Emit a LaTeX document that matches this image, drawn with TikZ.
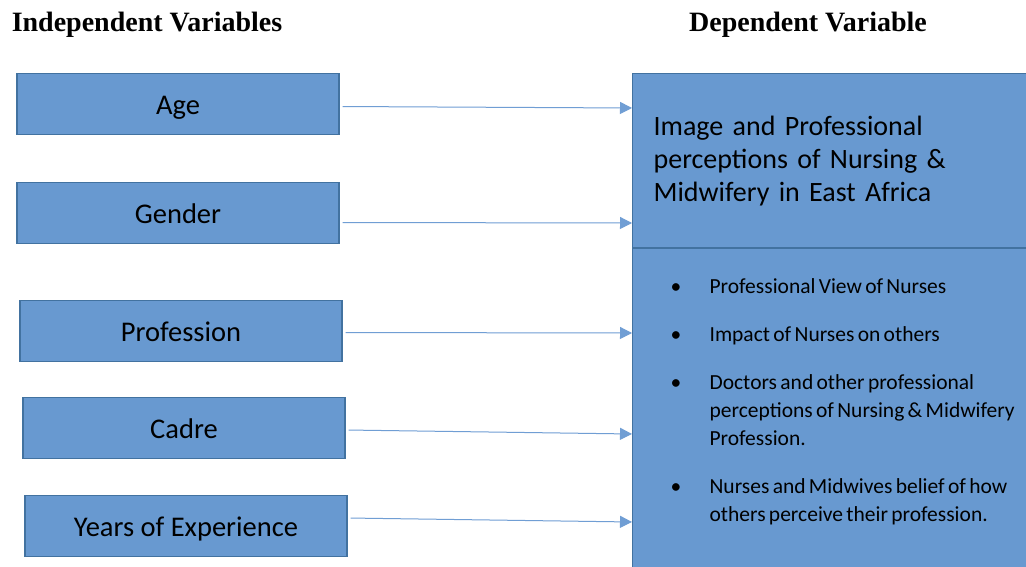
\documentclass[tikz,border=0pt]{standalone}
\usepackage{fontspec}
\setmainfont{Liberation Serif}
\newfontfamily\boxfont{Carlito}
\usetikzlibrary{arrows.meta}
\definecolor{boxblue}{RGB}{104,153,208}
\definecolor{edgeblue}{RGB}{66,114,160}
\definecolor{linkblue}{RGB}{112,158,212}
\tikzset{
  >={Triangle[length=12pt,width=12pt]},
}
\tikzstyle{varbox}=[draw=edgeblue,line width=1.2pt,fill=boxblue,minimum width=322pt,minimum height=61pt,text height=25pt,text depth=4pt,font=\boxfont\fontsize{28.5}{33}\selectfont]
\tikzstyle{depbox}=[draw=edgeblue,line width=1.2pt,fill=boxblue,anchor=north west,inner xsep=0pt,inner ysep=0pt]
\tikzstyle{link}=[linkblue,line width=1pt,->,shorten <=3pt]
\tikzstyle{heading}=[font=\bfseries\fontsize{28}{33}\selectfont,anchor=base]
\newcommand{\bulitem}[1]{\par\noindent\hangindent=77pt\hangafter=1\hspace*{38pt}\makebox[39pt][l]{\textbullet}#1}

\begin{document}
\begin{tikzpicture}[x=1pt,y=-1pt]
        \clip (0,0) rectangle (1026,567);
        \fill[white] (0,0) rectangle (1026,567);
        \node[heading] (indep) at (147,32) {Independent Variables};
        \node[heading] (depend) at (808,32) {Dependent Variable};
        % independent variables
        \node[varbox] (age) at (178,104) {Age};
        \node[varbox] (gender) at (178,213) {Gender};
        \node[varbox] (profession) at (181,331) {Profession};
        \node[varbox] (cadre) at (184,428) {Cadre};
        \node[varbox] (years) at (186,526) {Years of Experience};
        % dependent variable
        \node[depbox,minimum width=420pt,minimum height=174pt,text width=378pt,inner xsep=21pt,align=left,
          font=\boxfont\fontsize{28}{33}\selectfont] (title) at (632,73)
          {Image and Professional\\perceptions of Nursing \&\\Midwifery in East Africa};
        \node[depbox,minimum width=420pt,minimum height=340pt,text width=420pt,anchor=north west] (list) at (title.south west)
          {\begin{minipage}[t][340pt][t]{420pt}
           \boxfont\fontsize{21.5}{28}\selectfont\parskip=20pt\raggedright
           \vspace*{30pt}
           \bulitem{Professional View of Nurses}
           \bulitem{Impact of Nurses on others}
           \bulitem{Doctors and other professional\newline perceptions of Nursing \& Midwifery\newline Profession.}
           \bulitem{Nurses and Midwives belief of how\newline others perceive their profession.}
           \end{minipage}};
        % arrows
        \draw[link] ([yshift=-2.5pt]age.east) -- ([yshift=-4pt]age.east -| title.west);
        \draw[link] ([yshift=-9.5pt]gender.east) -- ([yshift=-10pt]gender.east -| title.west);
        \draw[link] ([yshift=-1.5pt]profession.east) -- ([yshift=-2pt]profession.east -| list.west);
        \draw[link] ([yshift=-2pt]cadre.east) -- ([yshift=-6pt]cadre.east -| list.west);
        \draw[link] ([yshift=8pt]years.east) -- ([yshift=4pt]years.east -| list.west);
      \end{tikzpicture}
\end{document}
